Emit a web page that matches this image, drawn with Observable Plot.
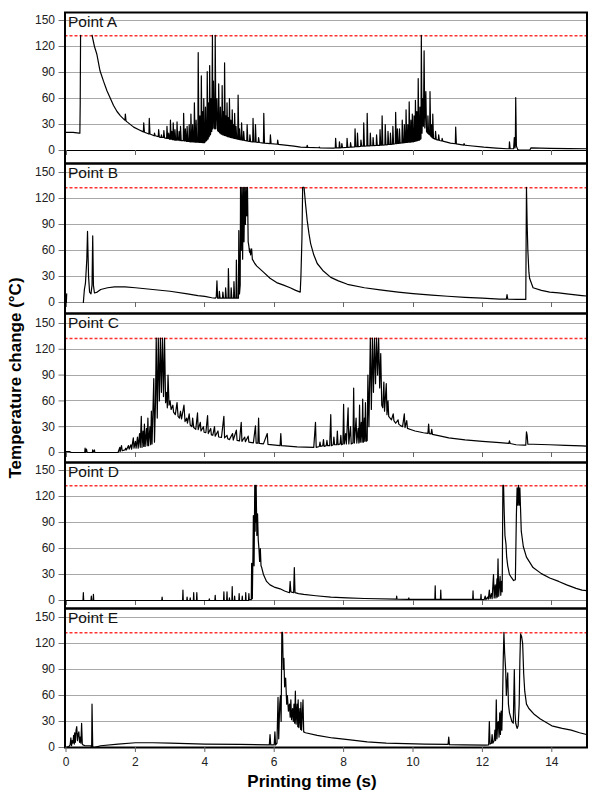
<!DOCTYPE html>
<html>
<head>
<meta charset="utf-8">
<script src="https://cdn.jsdelivr.net/npm/d3@7"></script>
<script src="https://cdn.jsdelivr.net/npm/@observablehq/plot@0.6"></script>
<style>
  html, body { margin: 0; padding: 0; background: #fff; }
  #wrap { position: relative; width: 605px; height: 793px; background: #fff; font-family: "Liberation Sans", Arial, sans-serif; }
  #wrap svg { position: absolute; left: 0; overflow: visible; }
  .ytitle { position: absolute; left: 24px; top: 378px; transform-origin: 0 0; transform: rotate(-90deg) translate(-50%, -100%); font-weight: bold; font-size: 17px; white-space: nowrap; color: #000; line-height: 1; }
  .xtitle { position: absolute; left: 312px; top: 773px; transform: translateX(-50%); font-weight: bold; font-size: 17px; white-space: nowrap; color: #000; line-height: 1; }
</style>
</head>
<body>
<div id="wrap">
  <div class="ytitle">Temperature change (°C)</div>
  <div class="xtitle">Printing time (s)</div>
</div>
<script>
// ---------- data (time s, temperature change °C) ----------
const panelLabels = ["Point A", "Point B", "Point C", "Point D", "Point E"];
const yTicks = [0, 30, 60, 90, 120, 150];
const xTicks = [0, 2, 4, 6, 8, 10, 12, 14];
const limitLine = [133];

const pointA = [
[0,21],[0.2,21],[0.38,20],[0.4,20],[0.41,55],[0.42,133],[0.43,null],[0.74,null],
[0.75,133],[0.82,120],[0.89,111],[0.98,92],[1.08,80],[1.18,69],[1.28,60],[1.37,52],[1.47,45],[1.57,40],[1.67,36],
[1.7,35],[1.71,42],[1.73,34],[1.76,33],[1.95,27],[2.1,24],[2.23,21.5],[2.24,32],[2.26,21],[2.39,19],[2.4,37],[2.42,19],
[2.54,17],[2.55,20],[2.57,17],[2.66,16],[2.67,24],[2.69,15.5],[2.74,15],[2.75,18],[2.77,15],[2.81,15],[2.82,23],[2.84,14.5],
[2.9,14],[2.91,28],[2.93,14],[2.95,14],[2.96,20],[2.98,13],[3.0,13],[3.01,35],[3.03,13],[3.04,13],[3.05,22],[3.07,12.5],
[3.08,12.5],[3.09,32],[3.11,12.5],[3.13,12],[3.14,24],[3.16,12],[3.19,12],[3.2,33],[3.22,12],[3.25,12],[3.26,22],[3.28,11.5],
[3.29,11.5],[3.3,28],[3.32,11.5],[3.38,11.5],[3.39,43],[3.41,11],[3.43,11],[3.44,25],[3.46,11],[3.48,10.5],[3.49,28],[3.51,10.5],
[3.54,10.5],[3.55,30],[3.57,10],[3.59,10],[3.6,42],[3.62,10],[3.64,10],[3.65,30],[3.67,9.8],[3.69,9.8],[3.7,55],[3.72,9.6],
[3.74,9.6],[3.75,35],[3.77,9.5],[3.8,9.5],[3.81,113],[3.83,9.4],[3.85,9.4],[3.86,40],[3.88,9.3],[3.89,9.3],[3.9,86],[3.92,9.2],
[3.93,9.2],[3.94,45],[3.96,9],[3.97,60],[3.99,9],[4.01,10],[4.02,50],[4.04,11],[4.06,12],[4.07,91],[4.09,13],[4.1,14],
[4.11,55],[4.13,16],[4.14,98],[4.16,18],[4.17,20],[4.18,60],[4.2,22],[4.22,133],[4.23,25],[4.25,80],[4.27,26],[4.29,25],
[4.3,133],[4.32,25],[4.35,60],[4.37,23],[4.39,22],[4.4,77],[4.42,21],[4.44,20],[4.45,50],[4.47,19],[4.49,19],[4.5,75],
[4.52,18],[4.53,18],[4.54,45],[4.56,17.5],[4.57,101],[4.59,17],[4.6,17],[4.61,40],[4.63,16.5],[4.64,55],[4.66,16],[4.67,16],
[4.68,38],[4.7,15.5],[4.71,60],[4.73,15.2],[4.74,15],[4.75,35],[4.77,14.8],[4.78,14.8],[4.79,47],[4.81,14.5],[4.82,14.3],[4.83,30],
[4.85,14],[4.86,43],[4.88,13.8],[4.89,13.6],[4.9,28],[4.92,13.4],[4.95,13],[4.96,64],[4.98,12.8],[4.99,12.6],[5.0,25],[5.02,12.5],
[5.05,12.3],[5.06,32],[5.08,12],[5.11,11.8],[5.12,22],[5.14,11.6],[5.21,11],[5.22,30],[5.24,10.8],[5.29,10.5],[5.3,18],[5.32,10.3],
[5.38,10],[5.39,37],[5.41,10],[5.45,9.8],[5.46,30],[5.48,9.6],[5.54,9.3],[5.55,15],[5.57,9.2],[5.69,8.6],[5.7,43],[5.72,8.5],
[5.88,8],[5.89,18],[5.91,7.9],[6.09,7.2],[6.1,12],[6.12,7.1],[6.57,5],[6.76,3.8],[6.94,3.6],[6.95,6],[6.97,3.5],[7.29,3.2],
[7.3,4],[7.32,3.1],[7.71,2.8],[7.76,3],[7.77,14],[7.79,3],[7.87,3],[7.88,10],[7.9,3],[7.94,3.2],[7.95,8],[7.97,3.2],
[8.09,3.5],[8.1,14],[8.12,3.6],[8.19,3.8],[8.2,9],[8.22,4],[8.32,4.2],[8.33,25],[8.35,4.3],[8.39,4.4],[8.4,20],[8.42,4.5],
[8.49,4.8],[8.5,12],[8.52,5],[8.57,5],[8.58,32],[8.6,5],[8.67,5.2],[8.68,43],[8.7,5.3],[8.76,5.4],[8.77,20],[8.79,5.5],
[8.84,5.6],[8.85,15],[8.87,5.7],[8.94,5.8],[8.95,18],[8.97,5.9],[9.04,6],[9.05,24],[9.07,6.1],[9.1,6.2],[9.11,40],[9.13,6.3],
[9.19,6.5],[9.2,30],[9.22,6.6],[9.27,6.8],[9.28,22],[9.3,6.9],[9.34,7],[9.35,20],[9.37,7.1],[9.41,7.2],[9.42,28],[9.44,7.4],
[9.49,7.8],[9.5,44],[9.52,8],[9.54,8],[9.55,25],[9.57,8.1],[9.6,8.3],[9.61,25],[9.63,8.4],[9.68,8.7],[9.69,35],[9.71,8.8],
[9.74,9],[9.75,30],[9.77,9.1],[9.79,9.2],[9.8,47],[9.82,9.3],[9.84,9.4],[9.85,30],[9.87,9.5],[9.88,9.5],[9.89,56],[9.91,9.6],
[9.93,9.7],[9.94,35],[9.96,9.8],[9.97,9.9],[9.98,42],[10.0,10],[10.02,10.2],[10.03,40],[10.05,10.5],[10.06,10.6],[10.07,58],[10.09,11],
[10.1,11],[10.11,45],[10.13,11.5],[10.14,11.5],[10.15,83],[10.17,12],[10.19,12],[10.2,50],[10.22,13],[10.23,14],[10.24,133],[10.26,20],
[10.28,60],[10.3,28],[10.32,115],[10.34,26],[10.37,68],[10.39,22],[10.42,20],[10.43,40],[10.45,19],[10.48,18],[10.49,68],[10.51,17],
[10.52,16],[10.53,30],[10.55,15],[10.56,14.5],[10.57,42],[10.59,14],[10.64,13],[10.65,22],[10.67,12.5],[10.73,12],[10.74,18],[10.76,11.5],
[10.83,11],[10.84,14],[10.86,10.8],[11.08,8.5],[11.22,7.8],[11.23,27],[11.25,7.6],[11.46,6.3],[11.47,8],[11.49,6.2],[11.57,5.8],[12.04,3.8],
[12.4,2.8],[12.72,2],[12.77,2],[12.78,10],[12.8,2],[12.9,2],[12.92,15],[12.94,3],[12.95,10],[12.96,61],[12.98,5],[13.02,1],
[13.05,0.5],[13.37,0.8],[13.4,3],[13.96,2.5],[14.5,2.2],[15,2]
];

const pointB = [
[0.01,0],[0.02,10],[0.03,null],[0.49,null],
[0.5,0],[0.53,15],[0.56,22],[0.6,50],[0.62,82],[0.65,30],[0.68,12],[0.72,10],[0.75,20],[0.77,77],[0.79,20],[0.82,11],
[0.9,12],[1.0,15],[1.2,17],[1.4,18],[1.7,18],[2.0,17],[2.5,15],[3.0,13],[3.5,10],[3.8,8],[4.0,7],[4.2,5.5],
[4.3,5],[4.33,6],[4.35,25],[4.37,5],[4.41,5],[4.42,13],[4.44,5],[4.51,5],[4.52,12],[4.54,5],[4.59,5],[4.6,17],
[4.62,5],[4.67,5],[4.68,39],[4.7,5],[4.75,5],[4.76,17],[4.78,5],[4.83,5],[4.84,24],[4.86,5],[4.9,5],[4.91,49],
[4.93,5],[4.97,5],[4.98,83],[5.0,10],[5.02,20],[5.03,133],[5.05,60],[5.07,133],[5.09,50],[5.11,133],[5.13,70],[5.15,133],
[5.17,90],[5.19,133],[5.21,100],[5.23,133],[5.25,70],[5.27,65],[5.29,58],[5.3,62],[5.32,55],[5.35,62],[5.37,50],[5.44,45],
[5.5,42],[5.69,35],[5.88,28],[6.07,23],[6.27,20],[6.46,17],[6.62,14],[6.75,12],[6.77,30],[6.8,75],[6.82,133],[6.86,133],
[6.9,115],[6.95,95],[7.0,80],[7.05,68],[7.14,55],[7.24,45],[7.4,37],[7.63,29],[7.85,25],[8.11,21],[8.6,17],[9.05,14.5],
[9.57,12],[10.0,10.3],[10.54,8.5],[11.0,7.2],[11.5,6],[12.0,5],[12.49,4],[12.69,3.8],[12.71,9],[12.73,3.8],[13.0,3.5],[13.25,3.5],
[13.27,133],[13.29,90],[13.31,60],[13.34,35],[13.36,28],[13.46,17],[13.7,14],[13.94,12],[14.2,11],[14.43,10],[14.87,8],[15,7.5]
];

const pointC = [
[0,1],[0.1,1],[0.15,0],[0.54,0],[0.55,5],[0.57,0],[0.59,4],[0.61,0],[0.76,0],[0.77,3],[0.78,0],[0.82,3],[0.83,0],
[1.5,0],[1.55,6],[1.56,1],[1.6,8],[1.62,2],[1.7,3],[1.72,5],[1.74,3],[1.8,8],[1.82,4],[1.87,9],[1.89,4],[1.94,17],
[1.96,5],[2.0,13],[2.02,5],[2.06,18],[2.08,5],[2.12,22],[2.14,6],[2.17,42],[2.19,6],[2.22,25],[2.24,7],[2.26,33],
[2.28,7],[2.32,28],[2.34,8],[2.36,40],[2.38,8],[2.42,30],[2.44,9],[2.46,48],[2.48,10],[2.53,86],[2.55,12],[2.58,60],
[2.6,133],[2.63,40],[2.66,133],[2.69,60],[2.72,133],[2.75,70],[2.78,133],[2.81,65],[2.84,133],[2.87,58],[2.9,70],[2.92,52],
[2.94,90],[2.97,55],[3.0,60],[3.03,50],[3.08,55],[3.1,47],[3.15,44],[3.2,58],[3.23,42],[3.27,40],[3.3,48],[3.33,39],
[3.4,55],[3.43,36],[3.48,40],[3.5,34],[3.55,45],[3.58,32],[3.63,30],[3.65,40],[3.68,29],[3.74,27],[3.79,46],[3.81,26.5],
[3.87,35],[3.89,25],[3.96,30],[3.98,23.5],[4.03,23],[4.08,43],[4.1,22],[4.17,28],[4.19,20.5],[4.23,20],[4.28,30],[4.3,19],
[4.38,25],[4.4,18],[4.48,17.5],[4.55,42],[4.57,17],[4.64,20],[4.66,16],[4.71,15],[4.8,22],[4.82,14.5],[4.91,26],[4.93,14],
[5.0,13.5],[5.05,35],[5.07,13],[5.15,18],[5.17,12.5],[5.25,19],[5.27,12],[5.4,11.3],[5.46,31],[5.48,11],[5.53,10.8],[5.55,40],
[5.57,10.5],[5.69,10],[5.8,22],[5.82,9.5],[6.17,8],[6.19,22],[6.21,8],[6.66,6.5],[7.14,6],[7.19,35],[7.21,6],[7.3,7],
[7.32,12],[7.34,7],[7.4,8],[7.42,15],[7.44,7],[7.5,8],[7.52,14],[7.54,8],[7.6,8],[7.63,44],[7.65,8],[7.7,9],
[7.72,18],[7.74,9],[7.8,9],[7.82,25],[7.84,9],[7.9,10],[7.92,20],[7.94,9],[7.98,10],[8.0,56],[8.02,10],[8.06,22],
[8.08,10],[8.13,52],[8.15,10],[8.2,30],[8.22,10],[8.27,11],[8.29,75],[8.31,11],[8.36,40],[8.38,11],[8.42,28],[8.44,11],
[8.46,55],[8.48,12],[8.51,35],[8.53,12],[8.55,62],[8.57,12],[8.6,40],[8.61,13],[8.63,58],[8.65,13],[8.68,14],[8.7,90],
[8.73,30],[8.77,133],[8.8,50],[8.83,133],[8.86,70],[8.89,133],[8.92,80],[8.95,133],[8.98,90],[9.01,133],[9.04,75],[9.07,115],
[9.1,55],[9.13,52],[9.16,82],[9.18,48],[9.23,80],[9.25,44],[9.28,60],[9.3,42],[9.34,40],[9.38,38],[9.43,45],[9.45,37],
[9.5,34],[9.57,38],[9.59,33],[9.65,31],[9.7,30],[9.75,45],[9.77,29],[9.82,37],[9.84,28],[9.95,26.5],[10.06,25],[10.3,23],
[10.43,22.2],[10.45,33],[10.47,22],[10.52,21.5],[10.54,27],[10.56,21],[10.8,19],[11.03,17],[11.5,14.6],[12.0,13],[12.5,11.5],[12.76,10.5],
[12.78,13.5],[12.8,10.5],[12.97,9],[13.2,8.5],[13.25,8.5],[13.27,24],[13.29,20],[13.31,9.6],[13.46,9.6],[13.94,9],[14.4,8.4],[14.87,7.7],[15,7.5]
];

const pointD = [
[0,0],[0.49,0],[0.5,9],[0.51,0],[0.72,0],[0.73,5],[0.74,0],[0.78,0],[0.79,7],[0.8,0],[2.76,0],[2.77,4],[2.78,0],
[3.36,0],[3.37,12],[3.38,0],[3.48,0],[3.49,4],[3.5,0],[3.57,0],[3.58,3],[3.59,0],[3.67,0],[3.68,9],[3.69,0],[3.76,0],
[3.77,9],[3.78,0],[4.12,0],[4.13,2],[4.14,0],[4.29,0],[4.3,6],[4.31,0],[4.54,0],[4.55,10],[4.56,0],[4.63,0],[4.64,10],
[4.65,0],[4.7,0],[4.71,3],[4.72,0],[4.78,0],[4.79,16],[4.8,0],[4.85,0],[4.86,5],[4.87,0],[4.98,0],[4.99,8],[5.0,0],
[5.07,0],[5.08,5],[5.09,0],[5.17,0],[5.18,9],[5.19,0],[5.26,0],[5.27,8],[5.28,1],[5.34,1],[5.35,43],[5.37,2],
[5.39,60],[5.4,98],[5.42,40],[5.44,133],[5.45,80],[5.46,133],[5.47,90],[5.48,133],[5.5,75],[5.52,100],[5.54,70],[5.56,60],
[5.58,45],[5.6,60],[5.62,40],[5.64,38],[5.69,30],[5.78,22],[5.88,18],[6.0,15.5],[6.17,13.5],[6.3,11],[6.44,9],[6.46,22],
[6.48,10],[6.56,9],[6.58,38],[6.6,9],[6.7,8],[6.85,7],[7.2,5.5],[7.63,4],[8.1,3],[8.6,2.3],[9.52,1.5],[9.53,5],
[9.54,1.5],[9.87,1.4],[9.88,3],[9.89,1.4],[10.54,1.2],[10.63,1.2],[10.64,17],[10.65,1.2],[10.79,1.2],[10.8,12],[10.81,1.2],
[11.5,1.2],[11.72,1.2],[11.73,11],[11.74,1.2],[11.95,1.2],[11.96,7],[11.97,1.2],[12.05,1],[12.08,5],[12.1,1],[12.15,4],
[12.17,1.5],[12.2,12],[12.22,2],[12.26,8],[12.28,2],[12.32,30],[12.34,3],[12.37,18],[12.39,3],[12.42,25],[12.43,4],[12.45,48],
[12.47,5],[12.51,28],[12.53,6],[12.55,22],[12.57,10],[12.59,133],[12.61,133],[12.63,100],[12.65,75],[12.68,65],[12.7,50],[12.73,40],
[12.78,30],[12.83,27],[12.9,23],[12.95,24],[12.98,100],[13.0,130],[13.02,110],[13.04,133],[13.06,110],[13.08,130],[13.12,80],[13.18,62],
[13.27,50],[13.46,38],[13.7,31],[13.94,26],[14.2,22],[14.43,18],[14.7,14],[14.87,12],[15,11.5]
];

const pointE = [
[0,0],[0.08,1],[0.12,3],[0.14,11],[0.16,2],[0.18,8],[0.2,5],[0.22,14],[0.24,4],[0.25,17],[0.27,6],[0.29,20],
[0.31,24],[0.33,8],[0.35,15],[0.37,18],[0.39,6],[0.41,12],[0.43,5],[0.45,28],[0.47,4],[0.49,3],[0.55,2],[0.7,2],
[0.74,1],[0.75,50],[0.77,1],[0.8,0],[1.0,2],[1.5,4],[2.0,5.5],[2.5,5.5],[3.0,5],[4.0,4],[5.0,3.5],[5.86,3],
[5.88,15],[5.9,3],[6.0,3],[6.02,18],[6.04,3],[6.08,5],[6.11,58],[6.13,10],[6.16,50],[6.18,60],[6.2,30],[6.22,133],
[6.24,133],[6.26,90],[6.28,103],[6.3,70],[6.33,80],[6.36,50],[6.38,60],[6.41,42],[6.44,50],[6.46,35],[6.48,55],[6.5,32],
[6.53,45],[6.55,30],[6.57,50],[6.59,28],[6.61,65],[6.63,27],[6.66,50],[6.68,24],[6.69,55],[6.71,23],[6.74,45],[6.76,21],
[6.77,52],[6.79,20],[6.83,55],[6.85,18],[6.9,17],[7.24,14],[7.68,11],[8.13,9],[8.68,6.5],[9.23,5],[10.34,4],[11.01,3.5],
[11.03,12],[11.05,3.3],[11.45,3],[12.1,2.7],[12.18,3],[12.2,30],[12.22,4],[12.26,5],[12.28,15],[12.3,5],[12.34,8],[12.36,20],
[12.38,8],[12.4,55],[12.42,10],[12.44,28],[12.46,30],[12.48,12],[12.5,40],[12.52,15],[12.54,42],[12.56,20],[12.58,50],[12.6,100],
[12.62,133],[12.64,110],[12.67,90],[12.69,60],[12.71,75],[12.73,86],[12.75,50],[12.78,40],[12.85,30],[12.89,28],[12.92,90],[12.94,40],
[12.96,28],[13.0,22],[13.03,25],[13.06,50],[13.08,100],[13.1,131],[13.13,128],[13.16,120],[13.19,85],[13.22,65],[13.27,50],[13.34,45],
[13.5,38],[13.67,33],[14.0,25],[14.3,22],[14.56,20],[14.8,17],[15,15]
];

const seriesList = [pointA, pointB, pointC, pointD, pointE];

// ---------- layout (page pixels): frame top, y(150), y(0), frame bottom ----------
const layout = [
  {top: 12,  y150: 20,  y0: 150, bottom: 163},
  {top: 163, y150: 172, y0: 302, bottom: 313},
  {top: 313, y150: 323, y0: 452, bottom: 462},
  {top: 462, y150: 470, y0: 600, bottom: 608},
  {top: 608, y150: 617, y0: 747, bottom: 747}
];

const wrap = document.getElementById("wrap");
const W = 605, ML = 64.5, MR = 18.5;

seriesList.forEach((data, i) => {
  const L = layout[i];
  const last = i === seriesList.length - 1;
  const mt = 2, mb = last ? 30 : 2;
  const frameH = L.bottom - L.top;
  const height = frameH + mt + mb;
  const off = L.top - mt;
  const marks = [
    Plot.ruleY(yTicks.slice(1), {stroke: "#a8a8a8", strokeWidth: 1, shapeRendering: "crispEdges"}),
  ];
  if (!last) {
    marks.push(Plot.ruleY([0], {stroke: i === 0 ? "#000" : "#8a8a8a", strokeWidth: i === 0 ? 1.4 : 1, shapeRendering: "crispEdges"}));
    marks.push(Plot.ruleX(xTicks, {y1: 0, y2: -6, stroke: "#666", strokeWidth: 1, shapeRendering: "crispEdges"}));
  }
  marks.push(
    Plot.ruleY(limitLine, {stroke: "#ff3030", strokeWidth: 1.5, strokeDasharray: "3,2", dy: 0.5}),
    Plot.line(data, {x: d => d[0], y: d => d[1], stroke: "#000", strokeWidth: 1.2, clip: true}),
    Plot.axisY(yTicks, {anchor: "left", tickSize: 6, tickPadding: 4, label: null, stroke: "#777", fill: "#222", fontSize: 12}),
    Plot.text([panelLabels[i]], {frameAnchor: "top-left", dx: 3, dy: 3, fontSize: 15.5, fill: "#111", lineAnchor: "top", textAnchor: "start"}),
    Plot.frame({stroke: "#000", strokeWidth: 2})
  );
  if (last) {
    marks.push(Plot.axisX(xTicks, {anchor: "bottom", tickSize: 5, tickPadding: 5, label: null, stroke: "#666", fill: "#222", fontSize: 12}));
  }
  const svg = Plot.plot({
    width: W,
    height: height,
    marginLeft: ML,
    marginRight: MR,
    marginTop: mt,
    marginBottom: mb,
    style: {fontFamily: "'Liberation Sans', Arial, sans-serif", fontSize: "12px", background: "transparent", overflow: "visible"},
    x: {domain: [0, 15], range: [65.5, 586], axis: null},
    y: {domain: [0, 150], range: [L.y0 - off, L.y150 - off], axis: null},
    marks
  });
  svg.style.top = off + "px";
  wrap.appendChild(svg);
});
</script>
</body>
</html>
